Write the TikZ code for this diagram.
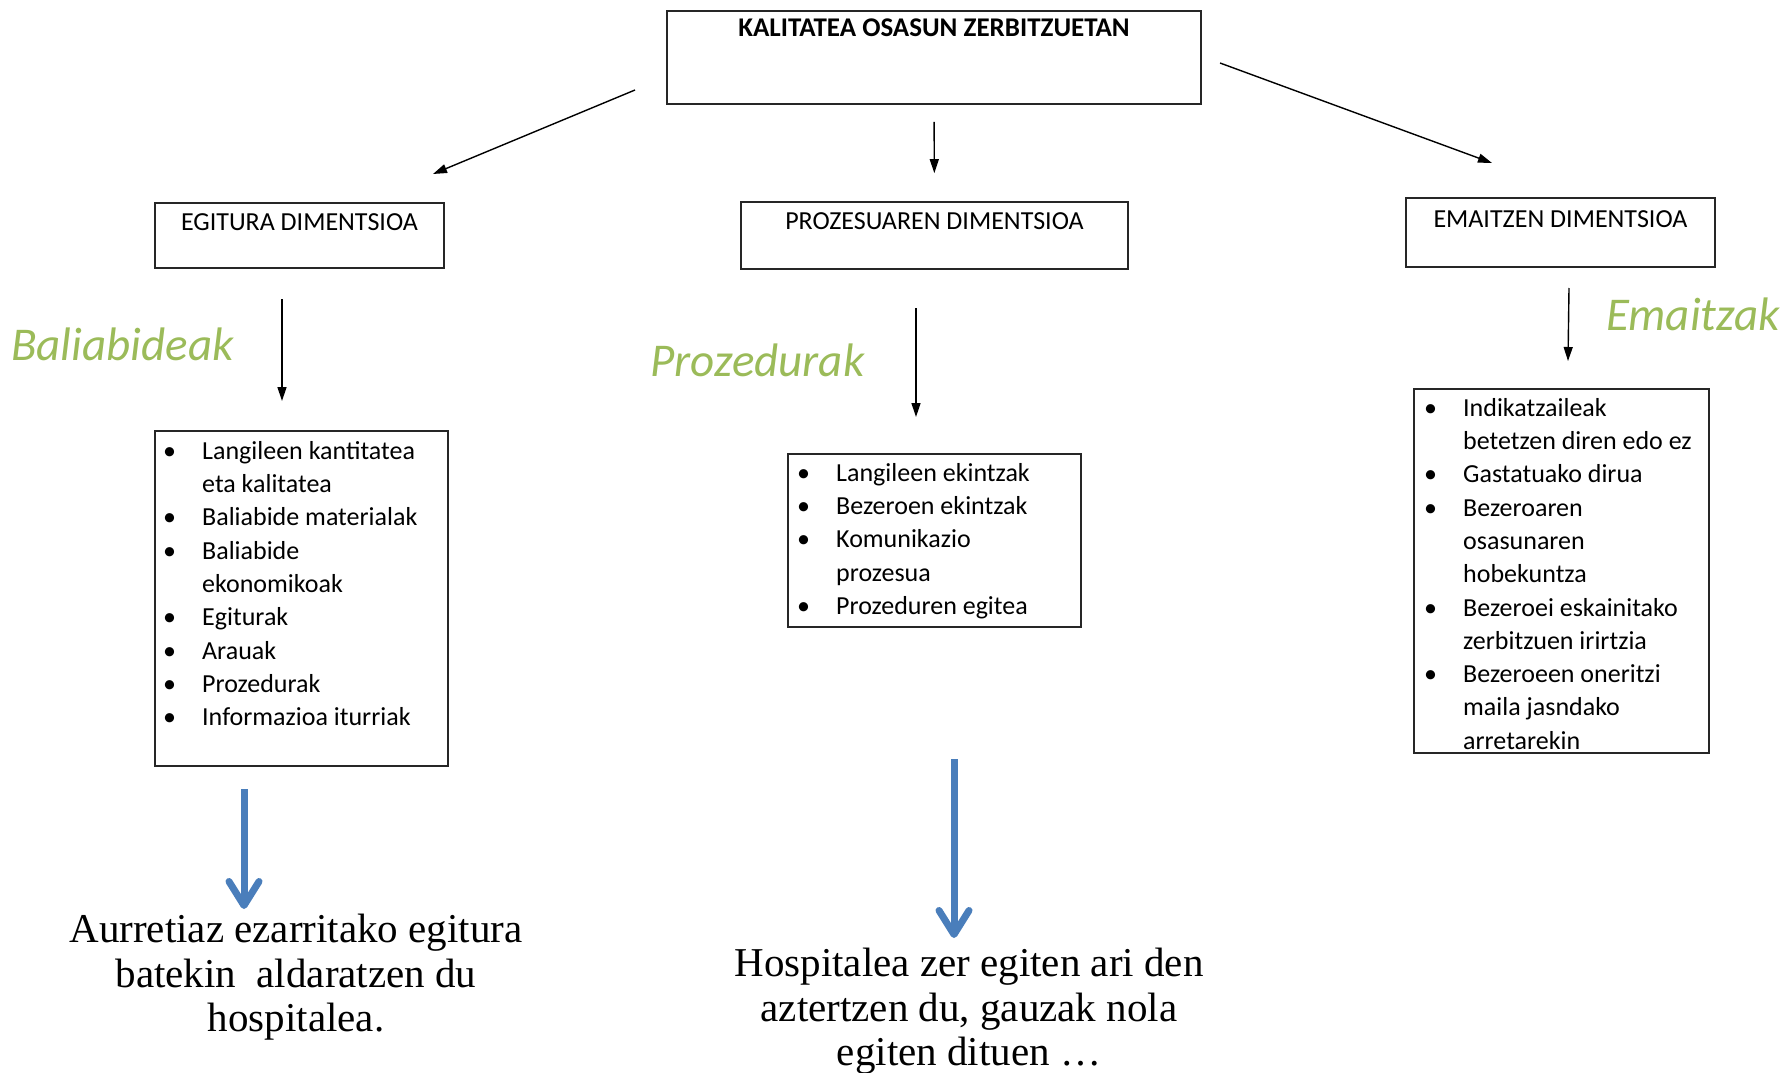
\documentclass[tikz,border=0pt]{standalone}
\usepackage{fontspec}
\setmainfont{Carlito}
\newfontfamily\serifb{Liberation Serif}
\usetikzlibrary{arrows.meta}
\definecolor{lgreen}{HTML}{9BBB59}
\definecolor{ablue}{HTML}{4A7EBB}
\newcommand\bul{\makebox[39pt][l]{\textbullet}}
\newcommand\ind{\hspace*{39pt}}
\begin{document}
\begin{tikzpicture}[x=1pt,y=-1pt,
  box/.style={draw=black!85, line width=1.6pt, inner sep=0pt},
  ttl/.style={font=\fontsize{26}{30}\selectfont, anchor=base, inner sep=0pt},
  lst/.style={font=\fontsize{26}{33.3}\selectfont, anchor=north west, inner sep=0pt, align=left},
  arr/.style={line width=1.4pt, -{Triangle[length=14pt,width=9pt]}},
  barr/.style={ablue, line width=7pt, -{Straight Barb[length=24pt,width=30pt,round]}},
  grn/.style={text=lgreen, font=\itshape\fontsize{47}{52}\selectfont, inner sep=0pt, anchor=base west},
  btxt/.style={font=\serifb\fontsize{41}{44.5}\selectfont, align=center, inner sep=0pt, anchor=north}]
\useasboundingbox (0,0) rectangle (1788,1073);

% boxes
\node[box, minimum width=534, minimum height=93] (top) at (934,57.5) {};
\node[ttl, font=\bfseries\fontsize{27}{30}\selectfont] (toptxt) at (934,37) {KALITATEA OSASUN ZERBITZUETAN};

\node[box, minimum width=289, minimum height=65] (egit) at (299.5,235.5) {};
\node[ttl] (egittxt) at (299.5,230) {EGITURA DIMENTSIOA};

\node[box, minimum width=387, minimum height=67] (proz) at (934.5,235.5) {};
\node[ttl] (proztxt) at (934.5,229) {PROZESUAREN DIMENTSIOA};

\node[box, minimum width=309, minimum height=69] (emai) at (1560.5,232.5) {};
\node[ttl] (emaitxt) at (1560.5,227) {EMAITZEN DIMENTSIOA};

% list boxes
\node[box, minimum width=293, minimum height=335] (lb1) at (301.5,598.5) {};
\node[lst] (l1) at (163,441) {\bul Langileen kantitatea\\ \ind eta kalitatea\\ \bul Baliabide materialak\\ \bul Baliabide\\ \ind ekonomikoak\\ \bul Egiturak\\ \bul Arauak\\ \bul Prozedurak\\ \bul Informazioa iturriak};

\node[box, minimum width=293, minimum height=173] (lb2) at (934.5,540.5) {};
\node[lst] (l2) at (797,463) {\bul Langileen ekintzak\\ \bul Bezeroen ekintzak\\ \bul Komunikazio\\ \ind prozesua\\ \bul Prozeduren egitea};

\node[box, minimum width=295, minimum height=364] (lb3) at (1561.5,571) {};
\node[lst] (l3) at (1424,398) {\bul Indikatzaileak\\ \ind betetzen diren edo ez\\ \bul Gastatuako dirua\\ \bul Bezeroaren\\ \ind osasunaren\\ \ind hobekuntza\\ \bul Bezeroei eskainitako\\ \ind zerbitzuen irirtzia\\ \bul Bezeroeen oneritzi\\ \ind maila jasndako\\ \ind arretarekin};

% green labels
\node[grn] (g1) at (11,360) {Baliabideak};
\node[grn] (g2) at (650,376) {Prozedurak};
\node[grn] (g3) at (1606,330) {Emaitzak};

% bottom texts
\node[btxt] (t1) at (296,914) {Aurretiaz ezarritako egitura\\ batekin\ \ aldaratzen du\\ hospitalea.};
\node[btxt] (t2) at (969,948) {Hospitalea zer egiten ari den\\ aztertzen du, gauzak nola\\ egiten dituen \dots};

% arrow end coordinates
\coordinate (a1s) at (635,90);   \coordinate (a1e) at (433,174);
\coordinate (a3s) at (1220,63);  \coordinate (a3e) at (1492,163);
\coordinate (e1s) at (282,299);  \coordinate (e1e) at (282,401);
\coordinate (p1s) at (916,308);  \coordinate (p1e) at (916,417);
\coordinate (m1s) at (1569,288); \coordinate (m1e) at (1568,361);
\coordinate (b1s) at (244,789);  \coordinate (b1e) at (244,909);
\coordinate (b2s) at (954,759);  \coordinate (b2e) at (954,938);

% black arrows
\draw[arr] (a1s) -- (a1e);
\draw[arr, shorten <=17pt, shorten >=28pt] (top.south) -- (proz.north);
\draw[arr] (a3s) -- (a3e);
\draw[arr] (e1s) -- (e1e);
\draw[arr] (p1s) -- (p1e);
\draw[arr] (m1s) -- (m1e);

% blue arrows
\draw[barr] (b1s) -- (b1e);
\draw[barr] (b2s) -- (b2e);
\end{tikzpicture}
\end{document}
